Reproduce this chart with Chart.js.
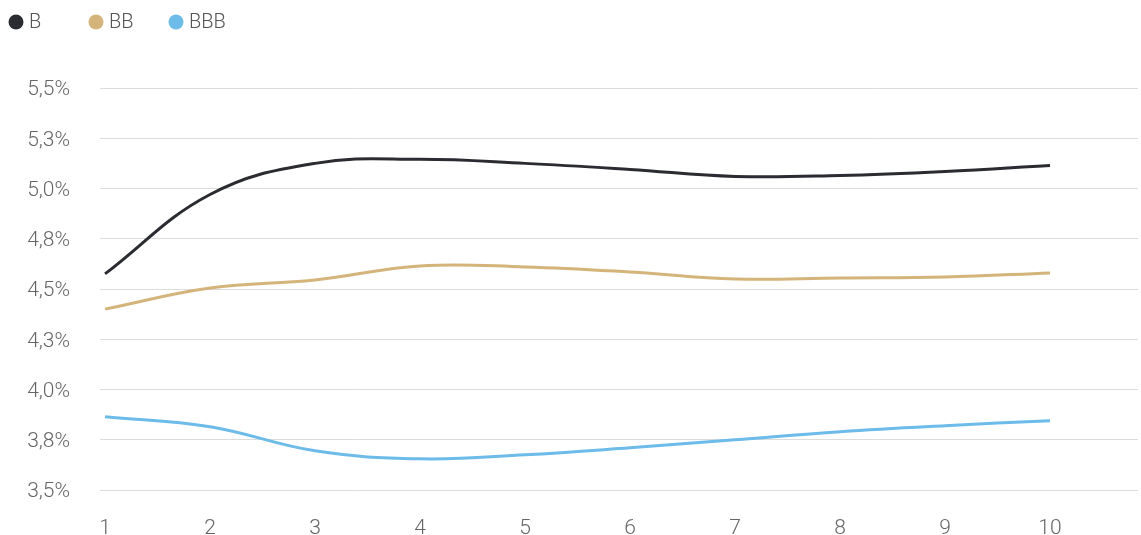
<!DOCTYPE html>
<html>
<head>
<meta charset="utf-8">
<script src="https://cdn.jsdelivr.net/npm/chart.js@4.4.0/dist/chart.umd.min.js"></script>
<style>
  html, body { margin: 0; padding: 0; background: #fff; }
  #chart { display: block; }
</style>
</head>
<body>
<canvas id="chart" width="1141" height="535"></canvas>
<script>
// Datos del gráfico
const xLabels = [1, 2, 3, 4, 5, 6, 7, 8, 9, 10];
const seriesNames = ['B', 'BB', 'BBB'];
const valuesB = [4.575, 4.97, 5.125, 5.145, 5.125, 5.095, 5.06, 5.065, 5.085, 5.115];
const valuesBB = [4.40, 4.505, 4.545, 4.615, 4.61, 4.585, 4.55, 4.555, 4.56, 4.58];
const valuesBBB = [3.865, 3.815, 3.695, 3.655, 3.675, 3.71, 3.75, 3.79, 3.82, 3.845];
const colors = ['#2a2c31', '#d4b47a', '#6cbbe9'];

const FONT = 'Roboto, "Noto Sans", sans-serif';

// Leyenda propia con espaciado fijo
const fixedLegend = {
    id: 'fixedLegend',
    afterDraw(chart) {
        const ctx = chart.ctx;
        ctx.save();
        ctx.font = '300 20px ' + FONT;
        ctx.textBaseline = 'middle';
        chart.data.datasets.forEach((ds, i) => {
            const x = 16 + i * 80;
            const y = 22;
            ctx.beginPath();
            ctx.arc(x, y, 7.5, 0, Math.PI * 2);
            ctx.fillStyle = ds.borderColor;
            ctx.fill();
            ctx.fillStyle = '#555';
            ctx.fillText(ds.label, x + 13, y + 1);
        });
        ctx.restore();
    }
};

const toPoints = (vals) => vals.map((v, i) => ({ x: xLabels[i], y: v }));

new Chart(document.getElementById('chart'), {
    type: 'line',
    data: {
        datasets: [valuesB, valuesBB, valuesBBB].map((vals, i) => ({
            label: seriesNames[i],
            data: toPoints(vals),
            borderColor: colors[i],
            backgroundColor: colors[i],
            borderWidth: 3,
            pointRadius: 0,
            tension: 0.4,
            fill: false
        }))
    },
    options: {
        responsive: false,
        animation: false,
        layout: { padding: { top: 88, right: 3, left: 0, bottom: 0 } },
        plugins: {
            legend: { display: false },
            tooltip: { enabled: false }
        },
        scales: {
            x: {
                type: 'linear',
                min: 0.952,
                max: 10.838,
                afterBuildTicks: (scale) => {
                    scale.ticks = xLabels.map(v => ({ value: v }));
                },
                afterFit: (scale) => { scale.height = 45; },
                grid: { display: false, drawTicks: false },
                border: { display: false },
                ticks: {
                    padding: 26,
                    color: '#666',
                    font: { family: FONT, size: 21, weight: 300 },
                    maxRotation: 0
                }
            },
            y: {
                min: 3.5,
                max: 5.5,
                afterFit: (scale) => { scale.width = 100; },
                grid: { color: '#dcdcdc', lineWidth: 1, drawTicks: false },
                border: { display: false },
                ticks: {
                    stepSize: 0.25,
                    padding: 30,
                    labelOffset: 2,
                    color: '#666',
                    font: { family: FONT, size: 21, weight: 300 },
                    callback: (v) => v.toFixed(1).replace('.', ',') + '%'
                }
            }
        }
    },
    plugins: [fixedLegend]
});
</script>
</body>
</html>
